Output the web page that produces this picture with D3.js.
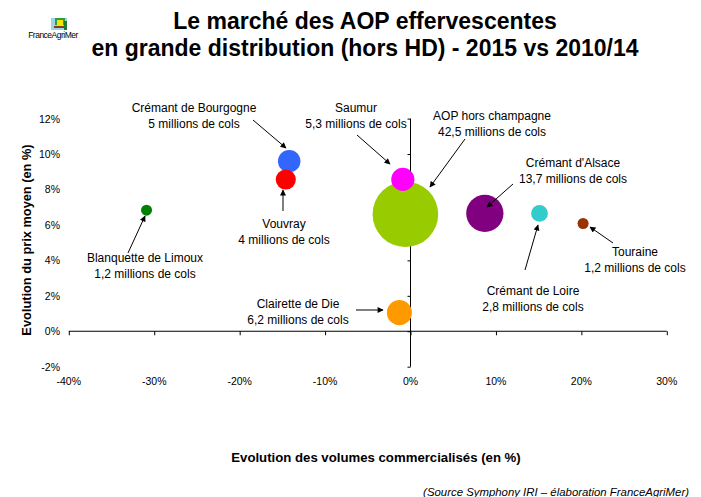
<!DOCTYPE html>
<html><head><meta charset="utf-8">
<script src="https://cdn.jsdelivr.net/npm/d3@7"></script>
<style>body{margin:0;background:#fff}svg{display:block;font-family:"Liberation Sans",Arial,sans-serif}</style>
</head><body><svg id="c" width="701" height="497"></svg>
<script>
const names = ["AOP hors champagne","Crémant d'Alsace","Clairette de Die","Saumur","Crémant de Bourgogne","Vouvray","Crémant de Loire","Blanquette de Limoux","Touraine"];
const volumes = [42.5, 13.7, 6.2, 5.3, 5, 4, 2.8, 1.2, 1.2];
const volumeLabels = ["42,5","13,7","6,2","5,3","5","4","2,8","1,2","1,2"];
const volumeChange = [-0.6, 8.7, -1.3, -0.9, -14.2, -14.6, 15.1, -30.9, 20.2];
const priceChange = [6.6, 6.65, 1.05, 8.57, 9.6, 8.56, 6.65, 6.83, 6.08];
const colors = ["#99CC00","#800080","#FF9900","#FF00FF","#3366FF","#FF0000","#33CCCC","#008000","#993300"];
const xTicks = [-40,-30,-20,-10,0,10,20,30];
const yTicks = [-2,0,2,4,6,8,10,12];

// label layout: text center (lx, ly first line), arrow from (ax1,ay1) to (ax2,ay2)
const labelLayout = [
  {lx:492, ly:116, a:[465,139,430,187]},
  {lx:573, ly:163, a:[513,184,487,207]},
  {lx:298, ly:304, a:[356,310,383,310]},
  {lx:356, ly:108, a:[357,135,390,164]},
  {lx:194, ly:108, a:[253,120,286,148]},
  {lx:284, ly:224, a:[283,211,283,190]},
  {lx:533, ly:291, a:[525,270,538,225]},
  {lx:145, ly:258, a:[128,253,145,216]},
  {lx:635, ly:252, a:[613,243,590,227]}
];

const svg = d3.select("#c");
const x = d3.scaleLinear().domain([-40,30]).range([68.8,666.8]);
const y = d3.scaleLinear().domain([-2,12]).range([366.7,118.6]);
const r = d3.scaleSqrt().domain([0,42.5]).range([0,32.8]);

// Title
const title = svg.append("text").attr("text-anchor","middle").attr("font-weight","bold").attr("font-size",23).attr("fill","#000");
title.append("tspan").attr("x",365).attr("y",29).text("Le marché des AOP effervescentes");
title.append("tspan").attr("x",365).attr("y",56).text("en grande distribution (hors HD) - 2015 vs 2010/14");

// Logo
const logo = svg.append("g");
logo.append("rect").attr("x",51).attr("y",18).attr("width",16).attr("height",12).attr("fill","#9FD3E8");
logo.append("rect").attr("x",55).attr("y",18).attr("width",10).attr("height",7).attr("fill","#2E9E3A");
logo.append("rect").attr("x",57).attr("y",20).attr("width",6).attr("height",6).attr("fill","#F2E600");
logo.append("rect").attr("x",54).attr("y",26).attr("width",10).attr("height",2).attr("fill","#8B3A1A");
logo.append("rect").attr("x",64).attr("y",21).attr("width",3).attr("height",9).attr("fill","#1E7A30");
logo.append("text").attr("x",53).attr("y",38).attr("text-anchor","middle").attr("font-size",8.5).attr("letter-spacing",-0.5).attr("fill","#000").text("FranceAgriMer");

// Axes
const xAxis = svg.append("g").attr("transform",`translate(0,${y(0)})`)
  .call(d3.axisBottom(x).tickValues(xTicks).tickSize(4).tickFormat(""));
xAxis.select(".domain").attr("d",`M${x(-40)},0H${x(30)}`);
const yAxis = svg.append("g").attr("transform",`translate(${x(0)},0)`)
  .call(d3.axisLeft(y).tickValues(yTicks).tickSize(3).tickFormat(""));
yAxis.select(".domain").attr("d",`M0,${y(-2)}V${y(12)}`);
svg.selectAll(".domain").attr("stroke","#000").attr("stroke-width",1);
svg.selectAll(".tick line").attr("stroke","#000");

// tick labels (outside plot like Excel)
svg.append("g").selectAll("text").data(xTicks).join("text")
  .attr("x",d=>x(d)).attr("y",385).attr("text-anchor","middle").attr("font-size",10.5).attr("fill","#000")
  .text(d=>d+"%");
svg.append("g").selectAll("text").data(yTicks).join("text")
  .attr("x",60).attr("y",d=>y(d)+4).attr("text-anchor","end").attr("font-size",10.5).attr("fill","#000")
  .text(d=>d+"%");

// Axis titles
svg.append("text").attr("transform","translate(31,240) rotate(-90)").attr("text-anchor","middle")
  .attr("font-weight","bold").attr("font-size",12.8).attr("fill","#000").text("Evolution du prix moyen (en %)");
svg.append("text").attr("x",376).attr("y",462).attr("text-anchor","middle")
  .attr("font-weight","bold").attr("font-size",13.2).attr("fill","#000").text("Evolution des volumes commercialisés (en %)");
svg.append("text").attr("x",689).attr("y",496).attr("text-anchor","end")
  .attr("font-style","italic").attr("font-size",11.4).attr("fill","#000").text("(Source Symphony IRI – élaboration FranceAgriMer)");

// Bubbles (larger first)
const data = names.map((n,i)=>({n,v:volumes[i],vl:volumeLabels[i],x:volumeChange[i],y:priceChange[i],c:colors[i],L:labelLayout[i]}));
svg.append("g").selectAll("circle").data(data.slice().sort((a,b)=>b.v-a.v)).join("circle")
  .attr("cx",d=>x(d.x)).attr("cy",d=>y(d.y)).attr("r",d=>r(d.v)).attr("fill",d=>d.c);

// Arrow marker
svg.append("defs").append("marker").attr("id","ah").attr("viewBox","0 0 10 10").attr("refX",9).attr("refY",5)
  .attr("markerWidth",7).attr("markerHeight",6).attr("markerUnits","userSpaceOnUse").attr("orient","auto")
  .append("path").attr("d","M0,0L10,5L0,10Z").attr("fill","#000");

const lab = svg.append("g");
data.forEach(d=>{
  const a = d.L.a;
  lab.append("line").attr("x1",a[0]).attr("y1",a[1]).attr("x2",a[2]).attr("y2",a[3])
    .attr("stroke","#000").attr("stroke-width",1).attr("marker-end","url(#ah)");
  const t = lab.append("text").attr("text-anchor","middle").attr("font-size",12).attr("fill","#000");
  t.append("tspan").attr("x",d.L.lx).attr("y",d.L.ly+4).text(d.n);
  t.append("tspan").attr("x",d.L.lx).attr("y",d.L.ly+20).text(d.vl+" millions de cols");
});
</script></body></html>
